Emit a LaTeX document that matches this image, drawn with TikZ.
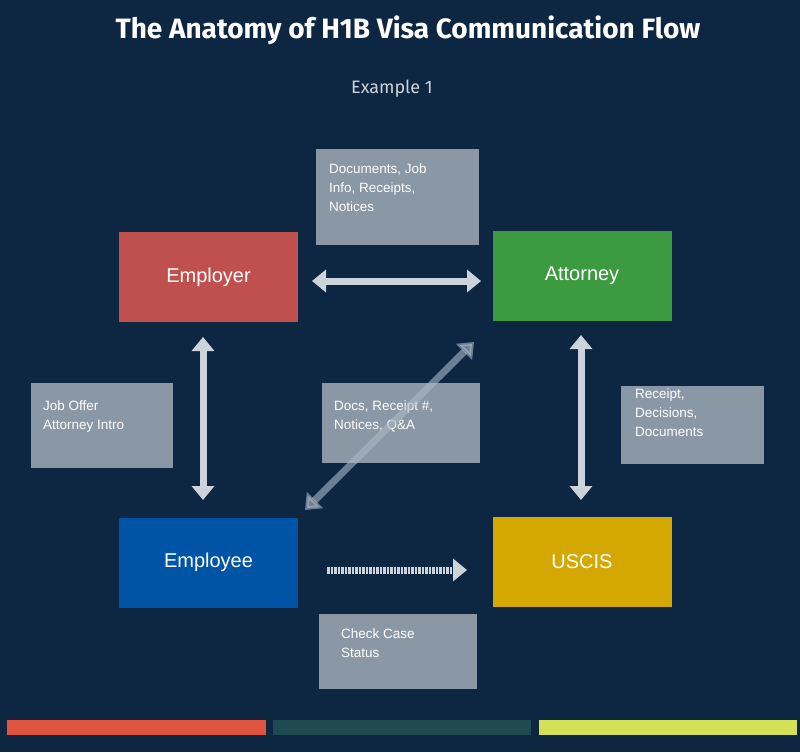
\documentclass[tikz,border=0pt]{standalone}
\usepackage{fontspec}
\setmainfont{Liberation Sans}
\newfontfamily\titlefont{Fira Sans}
\usetikzlibrary{arrows.meta}
\definecolor{bg}{HTML}{0D2743}
\definecolor{lab}{HTML}{8A97A4}
\definecolor{arr}{HTML}{CDD3DA}
\definecolor{cemp}{HTML}{C0504D}
\definecolor{catt}{HTML}{3C9A40}
\definecolor{cee}{HTML}{0054A6}
\definecolor{cus}{HTML}{D4A800}
\definecolor{diag}{HTML}{AAB9C8}
\definecolor{bar1}{HTML}{E0533F}
\definecolor{bar2}{HTML}{1E4A50}
\definecolor{bar3}{HTML}{D4E157}
\tikzset{
 main/.style={minimum width=179pt,minimum height=90pt,text=white,font=\fontsize{20}{24}\selectfont,inner sep=0pt},
 lbl/.style={text=white,font=\fontsize{13.5}{19}\selectfont,align=left,anchor=north west,inner sep=0pt},
 bi/.style={draw=arr,line width=7pt,{Triangle[width=22pt,length=14pt]}-{Triangle[width=22pt,length=14pt]}},
 uni/.style={draw=arr,line width=7pt,dash pattern=on 2.5pt off 1pt,-{Triangle[width=22pt,length=14pt]}}
}
\begin{document}
\begin{tikzpicture}[x=1pt,y=-1pt]
\fill[bg] (0,0) rectangle (800,752);
\node[font=\titlefont\bfseries\fontsize{28}{32}\selectfont,text=white] (title) at (408,30) {The Anatomy of H1B Visa Communication Flow};
\node[font=\titlefont\fontsize{18}{22}\selectfont,text=arr] (sub) at (392,89) {Example 1};
\node[main,fill=cemp] (emp) at (208.5,277) {Employer};
\node[main,fill=catt] (att) at (582,276) {Attorney};
\node[main,fill=cee] (ee) at (208.5,562.5) {Employee};
\node[main,fill=cus] (us) at (582,561.5) {USCIS};
% label boxes
\fill[lab] (316,149) rectangle (479,245);
\node[lbl] (l1) at (329,164) {Documents, Job\\Info, Receipts,\\Notices};
\fill[lab] (31,383) rectangle (173,468);
\node[lbl] (l2) at (43,401) {Job Offer\\Attorney Intro};
\fill[lab] (322,383) rectangle (480,463);
\node[lbl] (l3) at (334,401) {Docs, Receipt \#,\\Notices, Q\&A};
\fill[lab] (621,386) rectangle (764,464);
\node[lbl] (l4) at (635,389) {Receipt,\\Decisions,\\Documents};
\fill[lab] (319,614) rectangle (477,689);
\node[lbl] (l5) at (341,629) {Check Case\\Status};
% arrows
\coordinate (a1) at (312,281); \coordinate (a2) at (481,281);
\draw[bi] (a1) -- (a2);
\coordinate (b1) at (203,337); \coordinate (b2) at (203,500);
\draw[bi] (b1) -- (b2);
\coordinate (c1) at (581,335); \coordinate (c2) at (581,500);
\draw[bi] (c1) -- (c2);
\coordinate (d1) at (305,510); \coordinate (d2) at (474,342);
\draw[bi,draw=diag,draw opacity=0.6,fill opacity=0.6] (d1) -- (d2);
\coordinate (e1) at (327,570); \coordinate (e2) at (467,570);
\draw[uni] (e1) -- (e2);
% bars
\fill[bar1] (7,720) rectangle (266,735);
\fill[bar2] (273,720) rectangle (531,735);
\fill[bar3] (539,720) rectangle (797,735);
\end{tikzpicture}
\end{document}
